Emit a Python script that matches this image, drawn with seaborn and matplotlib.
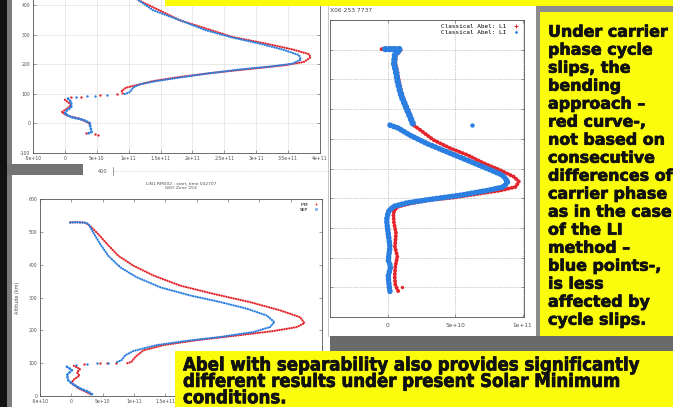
import matplotlib
matplotlib.use("Agg")
import matplotlib.pyplot as plt
import matplotlib.patheffects as pe
import seaborn as sns
from matplotlib import font_manager as fm
from matplotlib.patches import Rectangle
from matplotlib.lines import Line2D

W, H = 673, 407

# ---------------- data (electron density [el/m^3] vs altitude [km]) ----------------
# Panel 1 (top-left) : IPM (red) and SEP (blue)
p1_red_up_dens = [0.80e11, 1.00e11, 1.15e11, 1.80e11, 2.63e11, 3.15e11, 3.57e11, 3.83e11, 3.85e11,
                  3.75e11, 3.46e11, 2.94e11, 2.32e11, 1.80e11, 1.38e11, 1.12e11, 0.96e11, 0.89e11, 0.91e11]
p1_red_up_alt = [480, 440, 417, 349, 292, 270, 250, 234, 223, 208, 197, 185, 171, 157, 143, 129, 121, 110, 100]
p1_red_low_dens = [0.0, 0.10e11, 0.03e11, -0.05e11, 0.03e11, 0.23e11, 0.38e11, 0.40e11]
p1_red_low_alt = [80, 63, 49, 38, 27, 16, 1, -10]
p1_red_sparse_dens = [0.81e11, 0.55e11, 0.25e11, 0.10e11, 0.33e11, 0.47e11, 0.52e11]
p1_red_sparse_alt = [98, 95, 90, 88, -33, -35, -38]

p1_blue_up_dens = [0.80e11, 1.00e11, 1.15e11, 1.38e11, 1.80e11, 2.21e11, 2.63e11, 3.05e11, 3.41e11, 3.67e11,
                   3.70e11, 3.57e11, 3.25e11, 2.73e11, 2.21e11, 1.80e11, 1.43e11, 1.17e11, 1.07e11, 1.02e11, 0.91e11]
p1_blue_up_alt = [480, 440, 417, 383, 349, 315, 290, 270, 250, 231, 216, 202, 193, 182, 168, 155, 143, 132, 121, 106, 97]
p1_blue_low_dens = [0.05e11, 0.10e11, 0.10e11, 0.03e11, 0.0, 0.10e11, 0.29e11, 0.39e11, 0.40e11, 0.42e11, 0.35e11]
p1_blue_low_alt = [84, 72, 55, 44, 33, 21, 12, 1, -12, -29, -35]
p1_blue_sparse_dens = [0.66e11, 0.47e11, 0.34e11, 0.18e11]
p1_blue_sparse_alt = [96, 94, 91, 89]

# Panel 2 (bottom-left) : IPM (red) and SEP (blue)
p2_red_up_dens = [-0.02e11, 0.10e11, 0.22e11, 0.30e11, 0.43e11, 0.57e11, 0.75e11, 0.99e11, 1.31e11, 1.74e11,
                  2.27e11, 2.85e11, 3.33e11, 3.65e11, 3.72e11, 3.60e11, 3.23e11, 2.59e11, 2.00e11, 1.47e11,
                  1.15e11, 1.02e11, 0.96e11, 0.88e11]
p2_red_up_alt = [529, 529, 528, 518, 493, 463, 427, 397, 367, 336, 311, 286, 261, 240, 222, 210, 198, 183,
                 170, 155, 139, 119, 104, 99]
p2_red_low_dens = [0.04e11, 0.14e11, 0.09e11, 0.13e11, 0.05e11, 0.0, 0.10e11, 0.24e11, 0.33e11]
p2_red_low_alt = [92, 82, 72, 62, 52, 40, 25, 12, 3]
p2_red_sparse_dens = [0.20e11, 0.46e11, 0.57e11, 0.72e11]
p2_red_sparse_alt = [96, 99, 100, 101]

p2_blue_up_dens = [-0.02e11, 0.05e11, 0.12e11, 0.20e11, 0.27e11, 0.35e11, 0.46e11, 0.59e11, 0.78e11, 1.04e11,
                   1.42e11, 1.90e11, 2.38e11, 2.80e11, 3.12e11, 3.24e11, 3.17e11, 2.91e11, 2.38e11, 1.84e11,
                   1.36e11, 0.99e11, 0.86e11, 0.80e11, 0.70e11]
p2_blue_up_alt = [528, 529, 529, 528, 525, 498, 463, 427, 392, 362, 331, 306, 286, 266, 245, 225, 210, 195,
                  180, 168, 155, 137, 124, 109, 101]
p2_blue_low_dens = [-0.07e11, 0.01e11, -0.07e11, -0.05e11, 0.01e11, 0.14e11, 0.27e11, 0.35e11]
p2_blue_low_alt = [89, 79, 64, 48, 38, 23, 13, 3]
p2_blue_sparse_dens = [0.08e11, 0.25e11, 0.41e11, 0.58e11]
p2_blue_sparse_alt = [95, 98, 100, 102]

# Panel 3 (right) : bending approach (red) vs LI (blue)
p3_red_dens = [-0.47e10, 0.3e10, 1.0e10, 0.6e10, 0.55e10, 0.7e10, 0.8e10, 0.95e10, 1.1e10, 1.35e10, 1.65e10,
               1.89e10, 2.39e10, 3.38e10, 4.63e10, 5.87e10, 7.11e10, 8.36e10, 9.35e10, 9.72e10, 9.48e10,
               8.36e10, 6.62e10, 4.87e10, 3.13e10, 1.64e10, 0.65e10, 0.4e10, 0.45e10, 0.6e10, 0.52e10,
               0.7e10, 0.55e10, 0.5e10, 0.55e10, 0.77e10]
p3_red_alt = [451, 452, 451, 440, 427, 413, 399, 385, 371, 357, 340, 323, 315, 298, 284, 273, 259, 247, 236,
              228, 219, 213, 207, 201, 197, 191, 185, 175, 158, 141, 118, 102, 85, 68, 54, 43]
p3_red_stray_dens = [1.02e10]
p3_red_stray_alt = [51]

p3_blue_top_dens = [-0.2e10, 0.9e10, 0.52e10, 0.45e10, 0.6e10, 0.7e10, 0.84e10, 1.02e10, 1.27e10, 1.59e10, 1.84e10]
p3_blue_top_alt = [451, 451, 441, 427, 413, 399, 385, 371, 357, 340, 326]
p3_blue_slip_dens = [0.15e10, 0.77e10, 1.64e10, 2.89e10, 4.38e10, 5.87e10, 7.37e10, 8.49e10, 8.9e10, 8.6e10,
                     7.37e10, 5.37e10, 3.13e10, 1.4e10, 0.4e10, 0.02e10, -0.1e10, 0.02e10, 0.15e10, 0.02e10,
                     0.2e10, 0.02e10, 0.1e10, 0.15e10]
p3_blue_slip_alt = [323, 318, 306, 292, 278, 264, 250, 239, 228, 219, 213, 205, 198, 192, 186, 177, 163, 141,
                    118, 96, 85, 68, 51, 43]
p3_blue_stray_dens = [6.24e10]
p3_blue_stray_alt = [323]

# ticks
p12_xticks = [-5e10, 0, 5e10, 1e11, 1.5e11, 2e11, 2.5e11, 3e11, 3.5e11, 4e11]
p1_xticklabels = ["-5e+10", "0", "5e+10", "1e+11", "1.5e+11", "2e+11", "2.5e+11", "3e+11", "3.5e+11", "4e+11"]
p2_xticklabels = ["-5e+10", "0", "5e+10", "1e+11", "1.5e+11", "", "", "", "", ""]  # rest hidden by the box
p1_yticks = [-100, 0, 100, 200, 300, 400]
p2_yticks = [0, 100, 200, 300, 400, 500, 600]
p3_xticks = [0, 5e10, 1e11]
p3_xticklabels = ["0", "5e+10", "1e+11"]
p3_yticks = [0, 50, 100, 150, 200, 250, 300, 350, 400, 450, 500]

# text
right_lines = ["Under carrier", "phase cycle", "slips, the", "bending", "approach \u2013", "red curve-,",
               "not based on", "consecutive", "differences of", "carrier phase", "as in the case",
               "of the LI", "method \u2013", "blue points-,", "is less", "affected by", "cycle slips."]
bottom_lines = ["Abel with separability also provides significantly",
                "different results under present Solar Minimum",
                "conditions."]

RED = "#e4262c"
BLUE = "#2b7fe0"
YELLOW = "#fbfb0c"

# ---------------- figure ----------------
fig = plt.figure(figsize=(W / 100, H / 100), dpi=100)
fig.patch.set_facecolor("#121212")


def px_axes(left, top, right, bottom, **kw):
    return fig.add_axes([left / W, 1 - bottom / H, (right - left) / W, (bottom - top) / H], **kw)


def rect(ax, x0, y0, x1, y1, color, **kw):
    ax.add_patch(Rectangle((x0, y0), x1 - x0, y1 - y0, facecolor=color, edgecolor="none", **kw))


bg = px_axes(0, 0, W, H, zorder=0)
bg.set_xlim(0, W)
bg.set_ylim(H, 0)
bg.axis("off")
rect(bg, 7, 0, 12, H, "#7c7c7c")
rect(bg, 12, 0, 330, H, "white")
rect(bg, 322, 5, 536, 336, "white")
rect(bg, 7, 164, 83, 175, "#737373")
bg.text(107, 171.5, "400", fontsize=3.6, color="#555555", ha="right", va="center")
bg.plot([113, 113], [167, 175], color="#777777", lw=0.5)
bg.plot([113, 330], [171, 171], color="#bbbbbb", lw=0.4, ls=(0, (2, 2)))
bg.plot([328, 328], [0, 336], color="#bdbdbd", lw=0.6)


def style_axes(ax, xlim, ylim, xticks, xlabels, yticks, ylabels):
    ax.set_facecolor("white")
    ax.set_xlim(*xlim)
    ax.set_ylim(*ylim)
    ax.set_xticks(xticks)
    ax.set_xticklabels(xlabels)
    ax.set_yticks(yticks)
    ax.set_yticklabels(ylabels)
    ax.tick_params(direction="in", length=2.5, width=0.4, top=True, right=True,
                   labelsize=3.3, labelcolor="#505050", pad=2, color="#555555")
    for s in ax.spines.values():
        s.set_color("#555555")
        s.set_linewidth(0.6)
    ax.set_xlabel("")
    ax.set_ylabel("")


DOT = dict(linestyle=(0, (0.1, 1.0)), dash_capstyle="round")

# Panel 1
ax1 = px_axes(33, 123 - 5 * 29.5, 320, 153, zorder=1)
ax1.grid(True, color="#dadada", lw=0.4)
ax1.set_axisbelow(True)
sns.lineplot(x=p1_red_up_dens, y=p1_red_up_alt, sort=False, estimator=None, color=RED, lw=1.6, ax=ax1, **DOT)
sns.lineplot(x=p1_red_low_dens, y=p1_red_low_alt, sort=False, estimator=None, color=RED, lw=1.6, ax=ax1, **DOT)
sns.scatterplot(x=p1_red_sparse_dens, y=p1_red_sparse_alt, color=RED, s=3, linewidth=0, ax=ax1)
sns.lineplot(x=p1_blue_up_dens, y=p1_blue_up_alt, sort=False, estimator=None, color=BLUE, lw=1.6, ax=ax1, **DOT)
sns.lineplot(x=p1_blue_low_dens, y=p1_blue_low_alt, sort=False, estimator=None, color=BLUE, lw=2.0, ax=ax1, **DOT)
sns.scatterplot(x=p1_blue_sparse_dens, y=p1_blue_sparse_alt, color=BLUE, s=3, linewidth=0, ax=ax1)
style_axes(ax1, (-5e10, 4e11), (-100, 500), p12_xticks, p1_xticklabels,
           p1_yticks, [str(v) for v in p1_yticks])

# Panel 2
ax2 = px_axes(40, 199, 322, 396, zorder=1)
sns.lineplot(x=p2_red_up_dens, y=p2_red_up_alt, sort=False, estimator=None, color=RED, lw=1.6, ax=ax2, **DOT)
sns.lineplot(x=p2_red_low_dens, y=p2_red_low_alt, sort=False, estimator=None, color=RED, lw=1.6, ax=ax2, **DOT)
sns.scatterplot(x=p2_red_sparse_dens, y=p2_red_sparse_alt, color=RED, s=3, linewidth=0, ax=ax2)
sns.lineplot(x=p2_blue_up_dens, y=p2_blue_up_alt, sort=False, estimator=None, color=BLUE, lw=1.6, ax=ax2, **DOT)
sns.lineplot(x=p2_blue_low_dens, y=p2_blue_low_alt, sort=False, estimator=None, color=BLUE, lw=2.0, ax=ax2, **DOT)
sns.scatterplot(x=p2_blue_sparse_dens, y=p2_blue_sparse_alt, color=BLUE, s=3, linewidth=0, ax=ax2)
style_axes(ax2, (-5e10, 4e11), (0, 600), p12_xticks, p2_xticklabels,
           p2_yticks, [str(v) for v in p2_yticks])
ax2.set_ylabel("Altitude (km)", fontsize=3.5, color="#505050", labelpad=6)
ax2.set_title("LIN1 RM002 : start_time 042707\nGEO Zone 253", fontsize=3.2, color="#505050",
              pad=7, linespacing=1.3)
h2 = [Line2D([], [], color=RED, marker="+", ls="none", ms=2, mew=0.6),
      Line2D([], [], color=BLUE, marker="x", ls="none", ms=1.6, mew=0.6)]
ax2.legend(h2, ["IPM", "SEP"], loc="upper right", frameon=False, markerfirst=False, fontsize=3.2,
           handlelength=1.2, handletextpad=1.2, borderaxespad=0.4, labelspacing=0.2)

# Panel 3
ax3 = px_axes(330, 20, 524, 317, zorder=1)
ax3.grid(True, color="#9a9a9a", lw=0.5, ls=(0, (1, 1.5)))
ax3.set_axisbelow(True)
sns.lineplot(x=p3_red_dens, y=p3_red_alt, sort=False, estimator=None, color=RED, lw=2.8, ax=ax3,
             linestyle=(0, (0.1, 0.8)), dash_capstyle="round")
sns.scatterplot(x=p3_red_stray_dens, y=p3_red_stray_alt, color=RED, s=6, linewidth=0, ax=ax3)
sns.lineplot(x=p3_blue_top_dens, y=p3_blue_top_alt, sort=False, estimator=None, color=BLUE, lw=4.6, ax=ax3,
             linestyle=(0, (0.1, 0.6)), dash_capstyle="round")
sns.lineplot(x=p3_blue_slip_dens, y=p3_blue_slip_alt, sort=False, estimator=None, color=BLUE, lw=4.0, ax=ax3,
             linestyle=(0, (0.1, 0.6)), dash_capstyle="round")
sns.scatterplot(x=p3_blue_stray_dens, y=p3_blue_stray_alt, color=BLUE, s=10, linewidth=0, ax=ax3)
style_axes(ax3, (-4.3e10, 1.01e11), (0, 500), p3_xticks, p3_xticklabels, p3_yticks, [""] * len(p3_yticks))
ax3.tick_params(labelsize=4.2, pad=4)
h3 = [Line2D([], [], color=RED, marker="+", ls="none", ms=2.5, mew=0.7),
      Line2D([], [], color=BLUE, marker="o", ls="none", ms=2, mew=0)]
ax3.legend(h3, ["Classical Abel: L1", "Classical Abel: LI"], loc="upper right", frameon=False,
           markerfirst=False, handlelength=1.2, handletextpad=1.0, borderaxespad=0.3,
           labelspacing=0.15, prop={"family": "DejaVu Sans Mono", "size": 4.3})

# ---------------- overlay (boxes, slide text) ----------------
ov = px_axes(0, 0, W, H, zorder=5)
ov.set_xlim(0, W)
ov.set_ylim(H, 0)
ov.axis("off")
ov.text(330, 10, "X06 253 7737", fontsize=4.3, color="#444444", va="center", ha="left")
rect(ov, 165, 0, W, 6, YELLOW)
rect(ov, 536, 6, W, 12, "#8c8c8c")
rect(ov, 536, 6, 540, 336, "#8c8c8c")
rect(ov, 540, 12, W, 336, YELLOW)
rect(ov, 330, 336, W, 351, "#6a6a6a")
rect(ov, 175, 351, W, H, YELLOW)


def has_font(name):
    try:
        fm.findfont(fm.FontProperties(family=name), fallback_to_default=False)
        return True
    except Exception:
        return False


def condensed_font():
    for fam in ["Liberation Sans Narrow", "DejaVu Sans Condensed"]:
        if has_font(fam):
            return dict(family=fam)
    try:
        path = fm.findfont(fm.FontProperties(family="DejaVu Sans", stretch="condensed", weight="bold"),
                           fallback_to_default=False)
        if "ondensed" in path:
            return dict(family="DejaVu Sans", stretch="condensed")
    except Exception:
        pass
    if has_font("Liberation Sans"):
        return dict(family="Liberation Sans")
    return dict(family="DejaVu Sans")


renderer = fig.canvas.get_renderer()


def fitted_size(text, font, target_w):
    t = ov.text(0, 0, text, fontsize=10, weight="bold", **font)
    w = t.get_window_extent(renderer).width
    t.remove()
    return 10 * target_w / w


right_font = dict(family="DejaVu Sans")
bottom_font = condensed_font()
stroke = [pe.withStroke(linewidth=0.5, foreground="#111111")]

rs = fitted_size(right_lines[0], right_font, 120)
for i, line in enumerate(right_lines):
    ov.text(548, 36.7 + 18.0 * i, line, fontsize=rs, weight="bold", color="#111111",
            va="baseline", ha="left", path_effects=stroke, **right_font)

bs = fitted_size(bottom_lines[0], bottom_font, 453)
for i, line in enumerate(bottom_lines):
    ov.text(183, 370.5 + 16.4 * i, line, fontsize=bs, weight="bold", color="#111111",
            va="baseline", ha="left", path_effects=stroke, **bottom_font)

fig.savefig("out.png", dpi=100, facecolor=fig.get_facecolor())
